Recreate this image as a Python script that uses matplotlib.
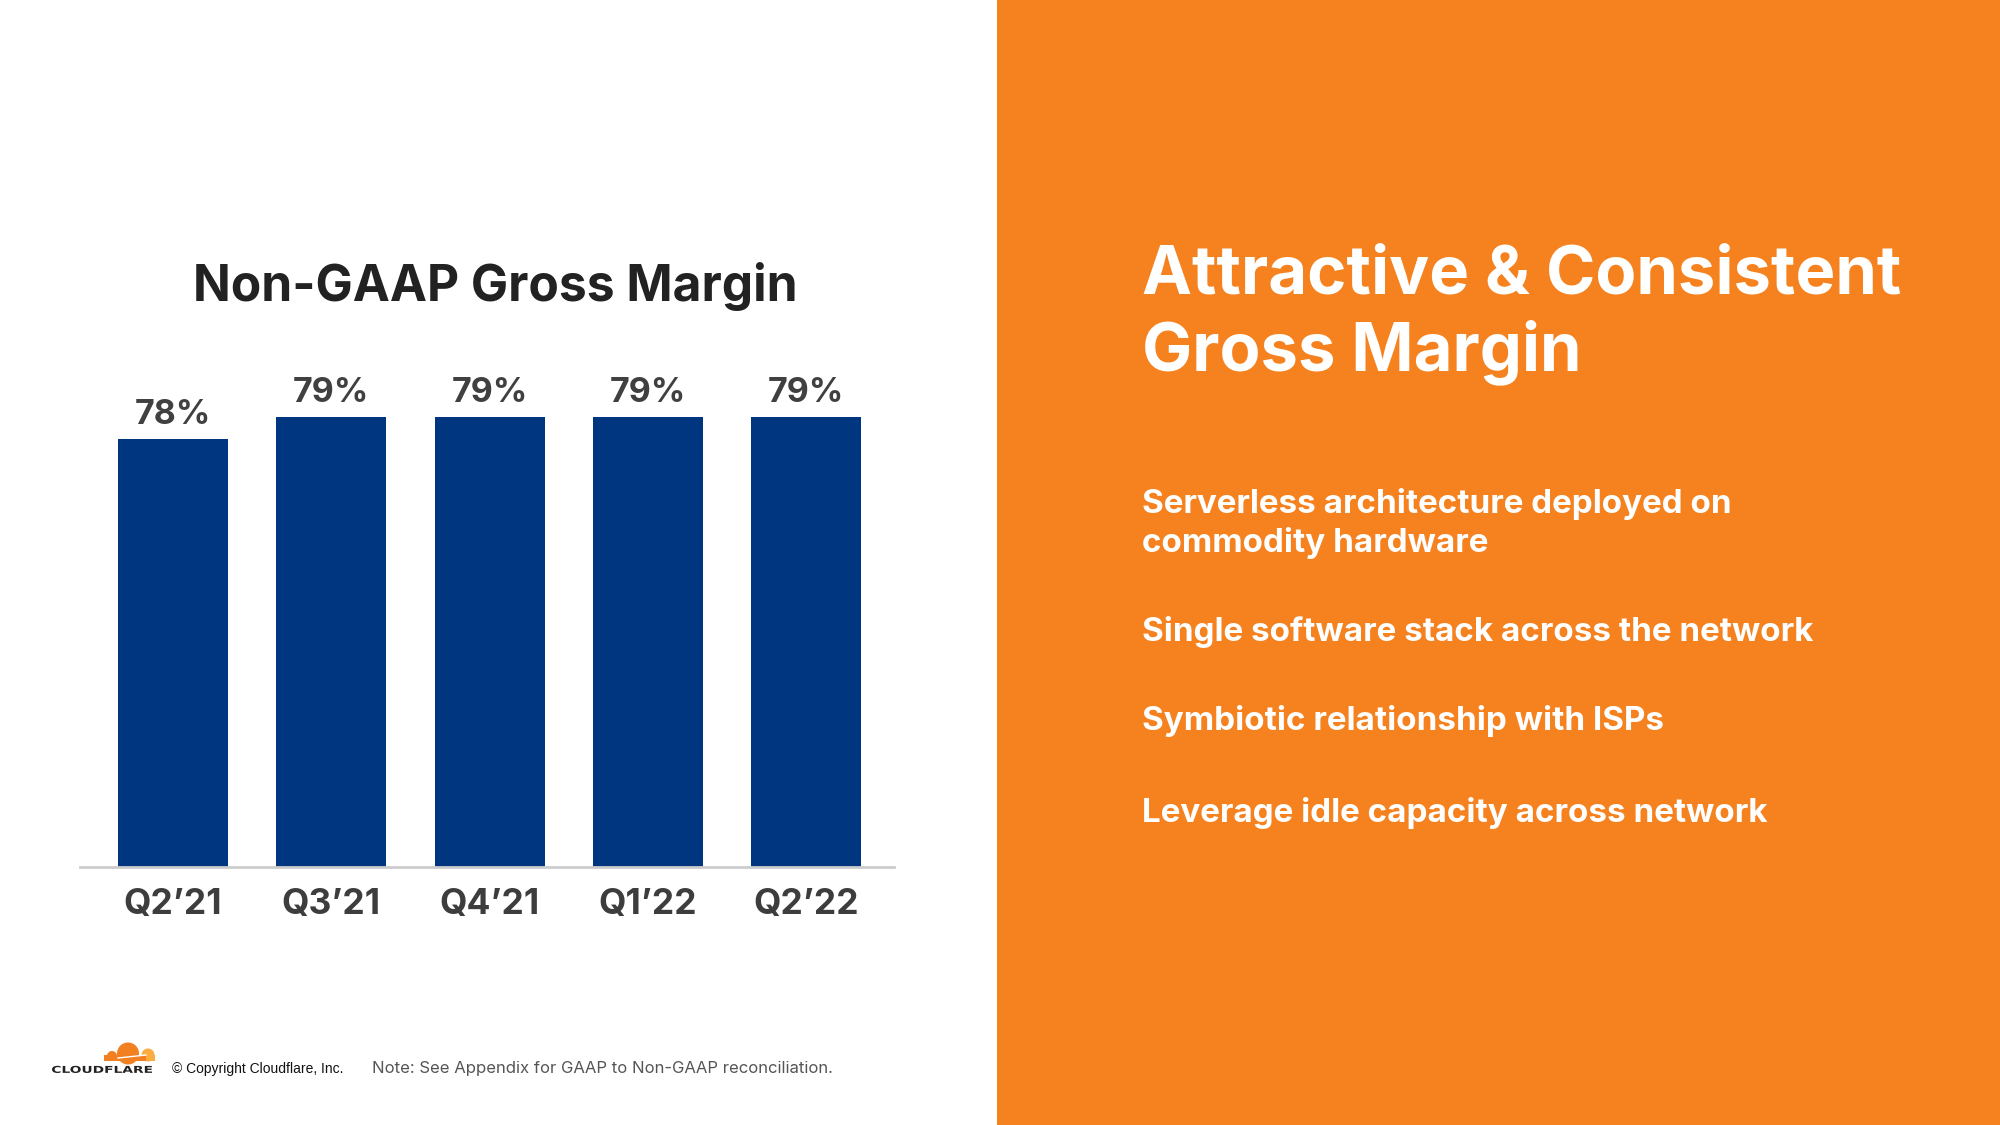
import matplotlib
matplotlib.use("Agg")
import matplotlib.pyplot as plt
from matplotlib.patches import Rectangle, Circle, PathPatch
from matplotlib.textpath import TextPath
from matplotlib.font_manager import FontProperties
from matplotlib.transforms import Affine2D

# ---------------- data ----------------
quarters = ["Q2’21", "Q3’21", "Q4’21", "Q1’22", "Q2’22"]
margins = [78, 79, 79, 79, 79]
value_labels = ["78%", "79%", "79%", "79%", "79%"]

chart_title = "Non-GAAP Gross Margin"
panel_title = ["Attractive & Consistent", "Gross Margin"]
bullets = [
    ["Serverless architecture deployed on", "commodity hardware"],
    ["Single software stack across the network"],
    ["Symbiotic relationship with ISPs"],
    ["Leverage idle capacity across network"],
]
note_text = "Note: See Appendix for GAAP to Non-GAAP reconciliation."
copyright_text = "© Copyright Cloudflare, Inc."

# ---------------- style ----------------
FONT = "Inter"
BAR_COLOR = "#00367F"
ORANGE = "#F5821F"
DARK = "#3D3D3D"
W, H = 2000, 1125
DPI = 100

fig = plt.figure(figsize=(W / DPI, H / DPI), dpi=DPI, facecolor="white")

# background overlay in pixel coordinates
bg = fig.add_axes([0, 0, 1, 1], zorder=0)
bg.set_xlim(0, W)
bg.set_ylim(H, 0)
bg.axis("off")
bg.add_patch(Rectangle((997, 0), W - 997, H, color=ORANGE, lw=0))

# ---------------- bar chart ----------------
ax_left, ax_right = 80 / W, 894 / W
ax_bottom, ax_top = 1 - 867 / H, 1 - 417 / H
ax = fig.add_axes([ax_left, ax_bottom, ax_right - ax_left, ax_top - ax_bottom], zorder=2)
ax.set_facecolor("none")
x = list(range(len(quarters)))
bars = ax.bar(x, margins, width=0.695, color=BAR_COLOR, zorder=2)
ax.set_xlim(-0.588, 4.556)
ax.set_ylim(58.5, 79)
for s in ["top", "right", "left"]:
    ax.spines[s].set_visible(False)
ax.spines["bottom"].set_color("#CCCCCC")
ax.spines["bottom"].set_linewidth(2.0)
ax.set_yticks([])
ax.set_xticks(x)
ax.set_xticklabels(quarters, fontfamily=FONT, fontweight="bold", fontsize=25.5, color=DARK)
ax.tick_params(axis="x", length=0, pad=15)
for xi, v, lab in zip(x, margins, value_labels):
    ax.annotate(lab, (xi, v), xytext=(0, 10.5), textcoords="offset points",
                ha="center", va="baseline", fontfamily=FONT, fontweight="bold",
                fontsize=24.5, color="#404040", clip_on=False)

# chart title
bg.text(495, 301, chart_title, ha="center", va="baseline", fontfamily=FONT,
        fontweight="bold", fontsize=35.8, color="#222222")

# ---------------- right panel ----------------
bg.text(1142, 293, panel_title[0], ha="left", va="baseline", fontfamily=FONT,
        fontweight="bold", fontsize=48.2, color="white")
bg.text(1142, 370, panel_title[1], ha="left", va="baseline", fontfamily=FONT,
        fontweight="bold", fontsize=48.2, color="white")

bullet_baselines = [[513, 552], [641], [730], [822]]
for lines, ys in zip(bullets, bullet_baselines):
    for line, yb in zip(lines, ys):
        bg.text(1142, yb, line, ha="left", va="baseline", fontfamily=FONT,
                fontweight="bold", fontsize=23.9, color="white")

# ---------------- footer ----------------
bg.text(372, 1073, note_text, ha="left", va="baseline", fontfamily=FONT,
        fontsize=12, color="#555555")
bg.text(172, 1073, copyright_text, ha="left", va="baseline",
        fontfamily="Liberation Sans", fontsize=10.0, color="#111111")

# logo: cloud
cloud_dark = "#F38020"
cloud_light = "#FBAD41"
bg.add_patch(Circle((148, 1055), 6.5, color=cloud_light, lw=0))
bg.add_patch(Rectangle((140, 1055), 15, 5.5, color=cloud_light, lw=0))
bg.add_patch(Circle((128, 1053.5), 11, color=cloud_dark, lw=0))
bg.add_patch(Circle((112, 1056), 5, color=cloud_dark, lw=0))
bg.add_patch(Rectangle((104, 1055), 42, 5.5, color=cloud_dark, lw=0))
bg.plot([118, 146], [1058, 1055], color="white", lw=1.0)

# logo: wordmark (stretched)
fp = FontProperties(family="DejaVu Sans", weight="bold")
tp = TextPath((0, 0), "CLOUDFLARE", size=10, prop=fp)
bb = tp.get_extents()
sx = 100 / bb.width
sy = 7.2 / bb.height
tr = Affine2D().translate(-bb.x0, -bb.y0).scale(sx, -sy).translate(52, 1073)
bg.add_patch(PathPatch(tr.transform_path(tp), color="#222222", lw=0))

fig.savefig("out.png", dpi=DPI, facecolor="white")
